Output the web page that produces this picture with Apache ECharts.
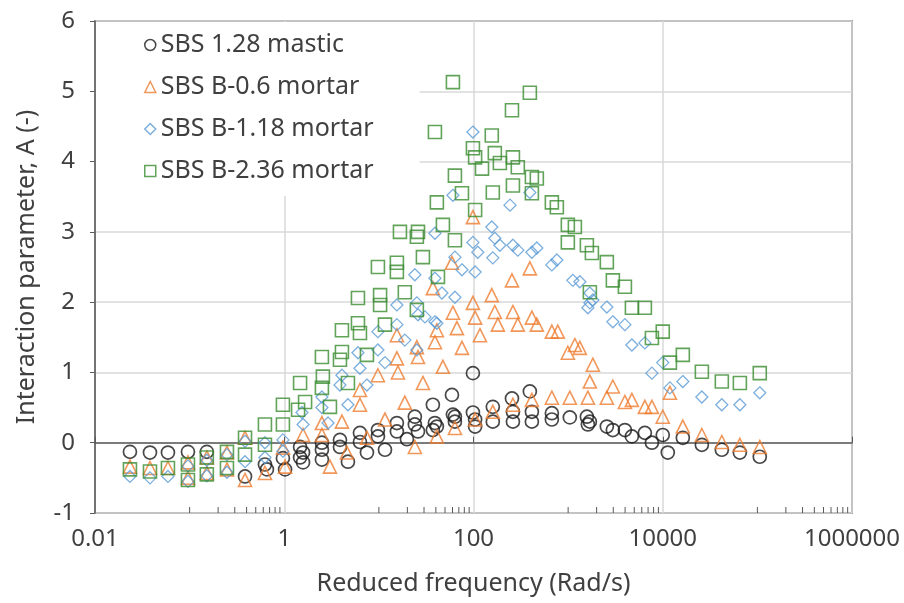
<!DOCTYPE html>
<html>
<head>
<meta charset="utf-8">
<script src="https://cdn.jsdelivr.net/npm/echarts@6/dist/echarts.min.js"></script>
<style>
    html, body { margin: 0; padding: 0; background: #fff; }
    #chart { width: 904px; height: 603px; }
</style>
</head>
<body>
<div id="chart"></div>
<script>
// Series names
var names = ['SBS 1.28 mastic', 'SBS B-0.6 mortar', 'SBS B-1.18 mortar', 'SBS B-2.36 mortar'];

// [reduced frequency (rad/s), interaction parameter A]
var mastic = [
    [0.0234,-0.13],[0.0381,-0.14],[0.059,-0.14],[0.096,-0.13],[0.152,-0.13],
    [0.385,-0.48],[0.625,-0.31],[0.656,-0.38],[0.968,-0.22],[1.02,-0.38],
    [1.47,-0.06],[1.47,-0.21],[1.58,-0.14],[1.58,-0.28],
    [2.5,0],[2.5,-0.1],[2.5,-0.24],
    [3.88,0.04],[3.88,-0.06],[4.71,-0.27],
    [6.31,0.14],[6.31,0.01],[7.48,-0.14],
    [9.77,0.18],[9.77,0.09],[11.6,-0.1],
    [15.5,0.28],[15.5,0.16],[19.8,0.05],
    [24,0.37],[24,0.26],[25.9,0.16],
    [37.2,0.54],[39.1,0.28],[37.2,0.18],[41,0.23],
    [59.2,0.68],[60.6,0.4],[63.6,0.37],[63.6,0.3],
    [98.6,0.99],[98.6,0.43],[104,0.33],[104,0.23],
    [160,0.51],[160,0.3],
    [255,0.63],[261,0.44],[261,0.3],
    [394,0.73],[414,0.44],[414,0.3],
    [673,0.42],[673,0.33],[1042,0.36],
    [1578,0.37],[1697,0.3],[1617,0.26],
    [2565,0.23],[2970,0.18],[3980,0.18],[4720,0.09],[6470,0.14],[7680,0],
    [10000,0.11],[11300,-0.14],[16300,0.07],[25900,-0.03],[42100,-0.1],[65300,-0.14],[106000,-0.2]
];

var mortar06 = [
    [0.0234,-0.34],[0.0381,-0.36],[0.059,-0.36],[0.096,-0.28],[0.096,-0.5],[0.152,-0.21],[0.152,-0.43],
    [0.248,-0.14],[0.248,-0.38],[0.385,0.07],[0.385,-0.53],[0.625,-0.43],[0.968,-0.07],[1.02,-0.34],
    [1.58,0.11],[2.5,0.11],[2.5,0.28],[3.04,-0.34],[4.07,0.3],[4.59,-0.14],[6.31,0.54],[6.31,0.75],
    [7.48,0.07],[9.77,0.96],[11.6,0.33],[15.5,1.2],[15.5,1.53],[15.9,1.0],[18.8,0.57],[25.2,1.36],
    [25.9,1.22],[24,-0.06],[29.2,0.85],[39.1,1.43],[41,1.6],[47.5,1.08],[41,0.09],[60.6,1.85],
    [63.6,0.21],[59.2,2.56],[37.2,2.2],[66.8,1.63],[75.5,1.35],[98.6,1.99],[104,1.78],[104,0.33],
    [117,1.53],[156,2.1],[168,1.86],[181,1.68],[160,0.44],[255,2.31],[261,1.86],[294,1.68],[261,0.54],
    [394,2.48],[414,1.78],[467,1.68],[414,0.61],[673,1.58],[778,1.58],[673,0.64],[1042,0.64],
    [993,1.28],[1178,1.39],[1617,0.64],[1697,0.87],[1825,1.11],[98.6,3.21],[1330,1.35],
    [2970,0.8],[2565,0.64],[4720,0.61],[3980,0.58],[6470,0.51],[7680,0.51],[10000,0.37],[11900,0.71],
    [16300,0.23],[25900,0.11],[42100,0.01],[65300,-0.03],[106000,-0.06]
];

var mortar118 = [
    [0.0234,-0.48],[0.0381,-0.5],[0.059,-0.48],[0.096,-0.33],[0.096,-0.55],[0.152,-0.25],[0.152,-0.47],
    [0.248,-0.17],[0.248,-0.42],[0.385,0.02],[0.385,-0.27],[0.625,0],[0.625,-0.21],[0.968,0.04],[0.968,-0.12],
    [1.58,0.26],[1.54,0.43],[2.5,0.65],[2.5,0.5],[2.9,0.28],[4.07,0.96],[3.88,0.82],[4.71,0.54],
    [6.01,1.28],[6.31,1.06],[7.48,0.82],[9.77,1.58],[9.77,1.32],[11.6,1.14],[15.5,1.96],[15.5,1.68],
    [18.8,1.46],[24,2.39],[25.9,1.82],[25.2,1.32],[39.1,2.34],[46.4,2.13],[39.1,1.72],[63.6,2.64],[63.6,2.07],
    [98.6,4.42],[60.6,3.52],[39.1,2.98],[243,3.38],[394,3.56],[156,3.07],[98.6,2.85],[111,2.71],
    [168,2.91],[190,2.81],[261,2.81],[294,2.74],[414,2.71],[467,2.77],[760,2.6],
    [160,2.63],[673,2.53],[1122,2.31],[1697,1.99],[1617,1.92],[75.5,2.46],[104,2.43],[25.2,1.99],
    [30.7,1.79],[41,1.7],
    [1330,2.29],[1697,2.13],[1825,2.03],[2565,1.93],[2970,1.72],[3980,1.68],[4720,1.39],[6470,1.42],
    [7680,0.99],[10000,1.14],[11900,0.78],[16300,0.87],[25900,0.65],[42100,0.54],[65300,0.54],[106000,0.71]
];

var mortar236 = [
    [0.0234,-0.38],[0.0381,-0.41],[0.059,-0.36],[0.096,-0.31],[0.096,-0.53],[0.152,-0.21],[0.152,-0.45],
    [0.248,-0.13],[0.248,-0.36],[0.385,0.07],[0.385,-0.17],[0.625,0.26],[0.625,-0.03],[0.968,0.54],
    [0.968,0.26],[1.47,0.85],[1.40,0.47],[1.66,0.58],
    [2.5,1.22],[2.56,0.94],[2.5,0.78],[4.07,1.6],[4.07,1.29],[3.88,1.18],[4.71,0.85],[6.01,1.7],
    [6.31,1.56],[7.48,1.25],[3.04,0.51],[6.01,2.06],[9.77,2.5],[10.3,2.1],[10.3,1.96],[11.6,1.68],
    [15.5,2.56],[15.5,2.43],[18.8,2.14],[29.2,2.64],[42.1,2.36],[25.2,1.89],
    [60.6,5.13],[394,4.98],[255,4.73],[39.1,4.42],[156,4.37],[98.6,4.19],[104,4.06],[168,4.12],
    [190,3.98],[261,4.06],[294,3.92],[414,3.78],[467,3.76],[123,3.9],[63.6,3.8],[41,3.42],[75.5,3.55],
    [160,3.56],[261,3.66],[414,3.55],[104,3.31],[47.5,3.1],[760,3.35],[673,3.42],[63.6,2.88],
    [16.7,3.0],[25.9,3.0],[25.2,2.93],[993,3.1],[1178,3.07],[993,2.85],[1578,2.81],[1783,2.7],[1697,2.14],
    [2565,2.57],[2970,2.31],[3980,2.22],[4720,1.92],[6470,1.92],[7680,1.49],[10000,1.58],[11900,1.14],
    [16300,1.25],[25900,1.01],[42100,0.87],[65300,0.85],[106000,0.99]
];

// x axis minor tick values (Excel style, between major ticks)
var minorTickVals = [0.1,0.2,0.3,0.4,0.5,0.6,0.7,0.8,0.9,
    10,20,30,40,50,60,70,80,90,
    1000,2000,3000,4000,5000,6000,7000,8000,9000,
    100000,200000,300000,400000,500000,600000,700000,800000,900000];

var colors = ['#1a1a1a', '#ED7D31', '#5B9BD5', '#3B8C31'];
var font = '"Noto Sans", "DejaVu Sans", sans-serif';
var textColor = '#404040';
var axisColor = '#595959';

var chart = echarts.init(document.getElementById('chart'));

// 散点系列
var makeSeries = function(name, data, symbol, size, color, bw){
    return {
        name: name,
        type: 'scatter',
        data: data,
        symbol: symbol,
        symbolSize: size,
        itemStyle: {
            color: 'rgba(0,0,0,0)',
            borderColor: color,
            borderWidth: bw
        },
        emphasis: {disabled: true}
    };
};

var option = {
    animation: false,
    grid: {
        left: 95, top: 21, right: 52, bottom: 90,
        show: true,
        borderColor: axisColor,
        borderWidth: 1.5
    },
    legend: {
        orient: 'vertical',
        left: 96, top: 22,
        padding: [8, 46, 10, 48],
        backgroundColor: '#fff',
        itemWidth: 11, itemHeight: 11,
        itemGap: 12,
        textStyle: {fontSize: 25, color: textColor, fontFamily: font, lineHeight: 30},
        itemStyle: {borderWidth: 1.5},
        data: [
            {name: names[0], icon: 'circle'},
            {name: names[1], icon: 'triangle'},
            {name: names[2], icon: 'diamond'},
            {name: names[3], icon: 'rect'}
        ]
    },
    xAxis: {
        type: 'log',
        logBase: 100,
        min: 0.01, max: 1000000,
        name: 'Reduced frequency (Rad/s)',
        nameLocation: 'middle',
        nameGap: 58,
        nameTextStyle: {fontSize: 25, color: textColor, fontFamily: font},
        axisLine: {lineStyle: {color: axisColor, width: 1.5}},
        axisTick: {inside: true, length: 6, lineStyle: {color: axisColor}},
        axisLabel: {
            fontSize: 24, color: textColor, fontFamily: font, margin: 14,
            formatter: function(v){ return String(+v.toPrecision(6)); }
        },
        splitLine: {show: true, lineStyle: {color: '#d9d9d9', width: 1.5}},
        minorTick: {show: false}
    },
    yAxis: {
        type: 'value',
        min: -1, max: 6, interval: 1,
        name: 'Interaction parameter, A (-)',
        nameLocation: 'middle',
        nameGap: 56,
        nameTextStyle: {fontSize: 25, color: textColor, fontFamily: font},
        axisLine: {show: true, lineStyle: {color: axisColor, width: 1.5}},
        axisTick: {show: true, length: 5, lineStyle: {color: axisColor}},
        axisLabel: {fontSize: 24, color: textColor, fontFamily: font, margin: 20},
        splitLine: {show: true, lineStyle: {color: '#d9d9d9', width: 1.5}}
    },
    series: [
        makeSeries(names[0], mastic, 'circle', 13, colors[0], 1.7),
        makeSeries(names[1], mortar06, 'triangle', 13, colors[1], 1.6),
        makeSeries(names[2], mortar118, 'diamond', 12, colors[2], 1.3),
        makeSeries(names[3], mortar236, 'rect', 13, colors[3], 1.6),
        {
            // 对数轴次刻度
            type: 'custom',
            silent: true,
            data: minorTickVals.map(function(v){ return [v, -1]; }),
            renderItem: function(params, api){
                var p = api.coord([api.value(0), api.value(1)]);
                return {
                    type: 'line',
                    shape: {x1: p[0], y1: p[1], x2: p[0], y2: p[1] - 6},
                    style: {stroke: axisColor, lineWidth: 1}
                };
            }
        }
    ]
};

chart.setOption(option);
</script>
</body>
</html>
